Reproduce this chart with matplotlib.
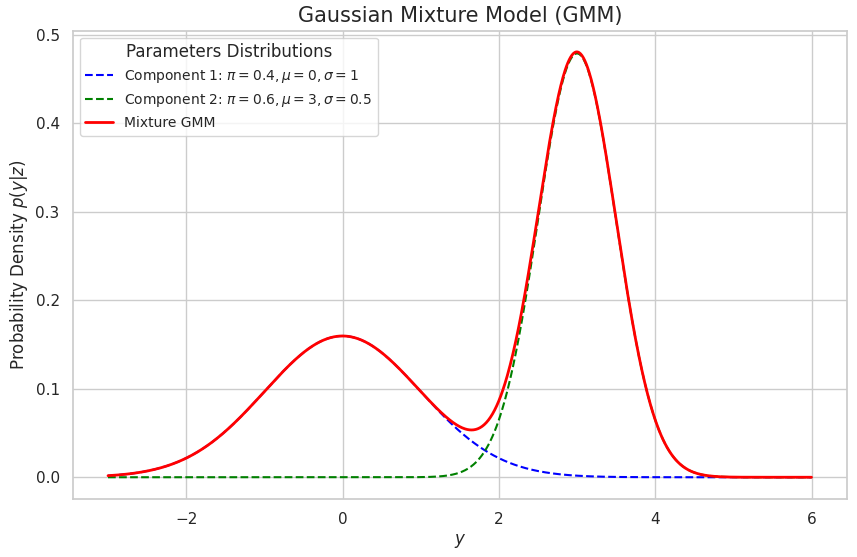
import numpy as np
import matplotlib
matplotlib.use("Agg")
import matplotlib.pyplot as plt
import seaborn as sns

sns.set_theme(style="whitegrid")

weights = [0.4, 0.6]
means = [0, 3]
sigmas = [1, 0.5]
y_min, y_max = -3, 6
labels = [r"Component 1: $\pi=0.4, \mu=0, \sigma=1$",
          r"Component 2: $\pi=0.6, \mu=3, \sigma=0.5$"]
colors = ["blue", "green"]

y = np.linspace(y_min, y_max, 1000)
def pdf(x, m, s):
    return np.exp(-0.5 * ((x - m) / s) ** 2) / (s * np.sqrt(2 * np.pi))

fig, ax = plt.subplots(figsize=(8.57, 5.57), dpi=100)
total = np.zeros_like(y)
for w, m, s, lab, c in zip(weights, means, sigmas, labels, colors):
    comp = w * pdf(y, m, s)
    total += comp
    ax.plot(y, comp, "--", color=c, label=lab, lw=1.5)
ax.plot(y, total, color="red", lw=2, label="Mixture GMM")

ax.set_title("Gaussian Mixture Model (GMM)", fontsize=15)
ax.set_xlabel(r"$y$", fontsize=12)
ax.set_ylabel(r"Probability Density $p(y|z)$", fontsize=12)
ax.legend(title="Parameters Distributions", loc="upper left", fontsize=10, title_fontsize=12)
fig.subplots_adjust(left=0.085, right=0.988, top=0.945, bottom=0.105)
fig.savefig("out.png")
